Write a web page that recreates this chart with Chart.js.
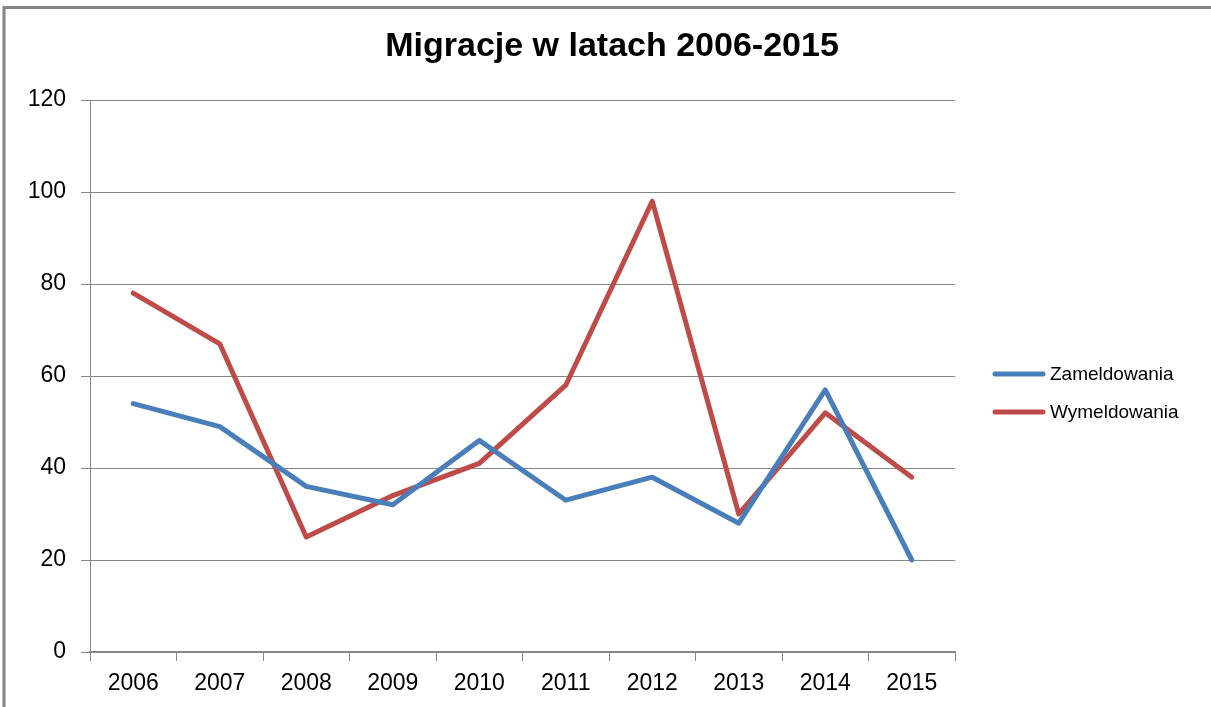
<!DOCTYPE html>
<html>
<head>
	<meta http-equiv="Content-Type" content="text/html; charset=utf-8"/>
	<script type="text/javascript" src="https://cdn.jsdelivr.net/npm/chart.js@4.4.1/dist/chart.umd.min.js"></script>
	<style type="text/css">
		html, body { margin: 0; padding: 0; background: #ffffff; }
		#demo { width: 1211px; height: 707px; }
	</style>
</head>
<body>
	<div id="demo">
		<canvas id="chart" width="1211" height="707"></canvas>
	</div>
	<script type="text/javascript">
		var lata = ["2006", "2007", "2008", "2009", "2010", "2011", "2012", "2013", "2014", "2015"];
		var zameldowania = [54, 49, 36, 32, 46, 33, 38, 28, 57, 20];
		var wymeldowania = [78, 67, 25, 34, 41, 58, 98, 30, 52, 38];
		var etykietyY = [0, 20, 40, 60, 80, 100, 120];
		var tytul = "Migracje w latach 2006-2015";

		var szary = "#868686";
		var czcionka = "'Liberation Sans', Arial, sans-serif";

		// ramka, tytul i legenda (tytul wysrodkowany na calej szerokosci)
		var ramka = {
			id: "ramka",
			beforeDraw: function(chart) {
				var ctx = chart.ctx;
				ctx.save();
				ctx.strokeStyle = szary;
				ctx.lineWidth = 3;
				ctx.beginPath();
				ctx.moveTo(4, 707);
				ctx.lineTo(4, 7.5);
				ctx.lineTo(1211, 7.5);
				ctx.stroke();
				ctx.restore();
			},
			afterDraw: function(chart) {
				var ctx = chart.ctx;
				ctx.save();
				ctx.fillStyle = "#000000";
				ctx.font = "bold 34px " + czcionka;
				ctx.textAlign = "center";
				ctx.textBaseline = "middle";
				ctx.fillText(tytul, 612, 47);

				ctx.textAlign = "left";
				ctx.font = "19px " + czcionka;
				chart.data.datasets.forEach(function(ds, i) {
					var y = 374 + i * 38;
					ctx.strokeStyle = ds.borderColor;
					ctx.lineWidth = 5;
					ctx.lineCap = "round";
					ctx.beginPath();
					ctx.moveTo(995, y);
					ctx.lineTo(1043, y);
					ctx.stroke();
					ctx.fillStyle = "#000000";
					ctx.fillText(ds.label, 1050, y + 1);
				});
				ctx.restore();
			}
		};

		var canvas = document.getElementById("chart").getContext("2d");
		window.wykres = new Chart(canvas, {
			type: "line",
			data: {
				labels: lata,
				datasets: [{
					label: "Zameldowania",
					data: zameldowania,
					borderColor: "#4a7ebb",
					borderWidth: 5
				}, {
					label: "Wymeldowania",
					data: wymeldowania,
					borderColor: "#be4b48",
					borderWidth: 5
				}]
			},
			options: {
				responsive: false,
				animation: false,
				events: [],
				elements: {
					point: { radius: 0 },
					line: { tension: 0, borderJoinStyle: "round", borderCapStyle: "round" }
				},
				layout: { padding: { left: 0, right: 256, top: 100, bottom: 0 } },
				plugins: {
					legend: { display: false },
					tooltip: { enabled: false },
					title: { display: false }
				},
				scales: {
					x: {
						offset: true,
						grid: { offset: true, drawOnChartArea: false, drawTicks: true, tickLength: 9, color: szary },
						border: { color: szary, width: 2 },
						ticks: { color: "#000000", padding: 9, font: { family: czcionka, size: 23 } },
						afterFit: function(s) { s.height = 55; }
					},
					y: {
						min: 0,
						max: 120,
						afterBuildTicks: function(s) {
							s.ticks = etykietyY.map(function(v) { return { value: v }; });
						},
						grid: { color: szary, lineWidth: 1, tickLength: 9 },
						border: { color: szary, width: 1 },
						ticks: { color: "#000000", padding: 15, font: { family: czcionka, size: 23 } },
						afterFit: function(s) { s.width = 90; }
					}
				}
			},
			plugins: [ramka]
		});
	</script>
</body>
</html>
